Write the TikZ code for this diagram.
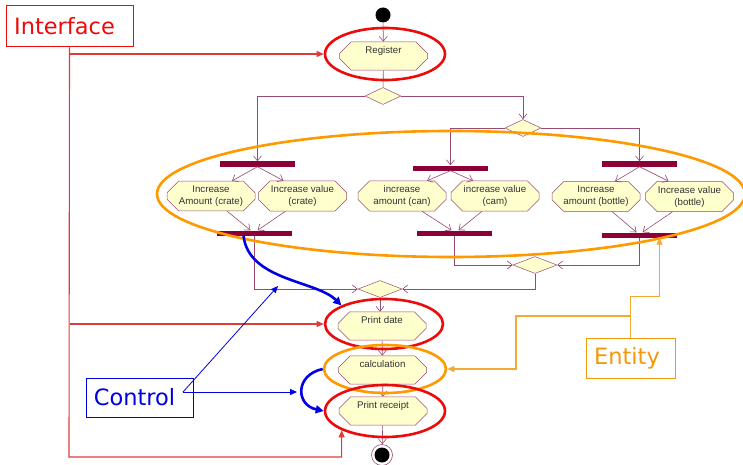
\documentclass[tikz,border=0pt]{standalone}
\usepackage{fontspec}
\setmainfont{Liberation Sans}
\newfontfamily\tagfont{DejaVu Sans}
\usetikzlibrary{shapes.geometric,shapes.misc,arrows.meta}

\definecolor{flowc}{RGB}{150,75,115}
\definecolor{actfill}{RGB}{255,255,206}
\definecolor{barc}{RGB}{140,0,55}
\definecolor{txtc}{RGB}{50,50,50}
\definecolor{redc}{RGB}{236,10,10}
\definecolor{redline}{RGB}{222,60,60}
\definecolor{orangec}{RGB}{255,153,0}
\definecolor{entc}{RGB}{242,152,10}
\definecolor{orangeline}{RGB}{244,170,50}
\definecolor{bluec}{RGB}{0,0,225}

\begin{document}
\begin{tikzpicture}[x=1pt,y=-1pt,
  action/.style={chamfered rectangle, chamfered rectangle xsep=8pt,
    draw=flowc, fill=actfill, line width=0.5pt, minimum width=88pt,
    minimum height=26pt, inner sep=1pt, align=center, text=txtc,
    font=\fontsize{9.7}{12}\selectfont},
  choice/.style={diamond, draw=flowc, fill=actfill, line width=0.5pt,
    inner sep=0pt, minimum height=17pt},
  syncbar/.style={rectangle, fill=barc, draw=none, minimum width=75pt,
    minimum height=5pt, inner sep=0pt},
  flow/.style={draw=flowc, line width=0.6pt},
  flowto/.style={flow, -{Straight Barb[length=5pt,width=8pt]}},
  hilite/.style={ellipse, draw=#1, line width=2.6pt, inner sep=0pt},
  tagbox/.style={draw=#1, text=#1, line width=1pt, inner sep=0pt,
    font=\tagfont\fontsize{22.5}{26}\selectfont},
  ifline/.style={draw=redline, line width=1.1pt},
  ctline/.style={draw=bluec, line width=0.8pt},
  enline/.style={draw=orangeline, line width=1.1pt},
  tip/.style={-{Triangle[length=7pt,width=6pt]}}
]
\useasboundingbox (0,0) rectangle (743,465);

% start and end states
\node[circle, fill=black, minimum size=15pt, inner sep=0pt] (start) at (383,15) {};
\node[circle, draw=flowc, fill=white, line width=0.6pt, minimum size=21pt, inner sep=0pt] (final) at (382,455) {};
\node[circle, fill=black, minimum size=15pt, inner sep=0pt] (finaldot) at (382,455) {};

% main column
\node[action] (reg) at (383.5,56) {Register\\\mbox{}};
\node[choice, minimum width=36pt] (d1) at (383,96) {};
\node[choice, minimum width=36pt] (d2) at (523,128) {};

% forks
\node[syncbar] (f1) at (257.5,164) {};
\node[syncbar] (f2) at (450.5,168) {};
\node[syncbar] (f3) at (639.5,164) {};

% increase actions
\node[action] (a1) at (211,196) {Increase\\Amount (crate)};
\node[action] (a2) at (302.5,196) {Increase value\\(crate)};
\node[action] (a3) at (402,196) {increase\\amount (can)};
\node[action] (a4) at (495,196) {increase value\\(cam)};
\node[action] (a5) at (596,196.5) {Increase\\amount (bottle)};
\node[action] (a6) at (689.5,196.5) {Increase value\\(bottle)};

% joins
\node[syncbar] (j1) at (254.5,233) {};
\node[syncbar] (j2) at (454.5,233) {};
\node[syncbar] (j3) at (639.5,235) {};

\node[choice, minimum width=44pt] (d3) at (380,289) {};
\node[choice, minimum width=44pt] (d4) at (535,265) {};

\node[action] (pd) at (382,326) {Print date\\\mbox{}};
\node[action] (calc) at (382.5,370) {calculation\\\mbox{}};
\node[action] (rcpt) at (383,411) {Print receipt\\\mbox{}};

% control flow
\draw[flowto] (start) -- (reg);
\draw[flow] (reg) -- (d1);
\draw[flowto] (d1.west) -| (f1.north);
\draw[flowto] (d1.east) -| (d2.north);
\draw[flowto] (d2.west) -| (f2.north);
\draw[flowto] (d2.east) -| (f3.north);

\draw[flowto] (f1.south) -- ([xshift=21pt]a1.north);
\draw[flowto] (f1.south) -- ([xshift=-19pt]a2.north);
\draw[flowto] (f2.south) -- ([xshift=25pt]a3.north);
\draw[flowto] (f2.south) -- ([xshift=-22pt]a4.north);
\draw[flowto] (f3.south) -- ([xshift=19pt]a5.north);
\draw[flowto] (f3.south) -- ([xshift=-21pt]a6.north);

\draw[flowto] ([xshift=16pt]a1.south) -- ([xshift=-4pt]j1.north);
\draw[flowto] ([xshift=-17pt]a2.south) -- ([xshift=3pt]j1.north);
\draw[flowto] ([xshift=20pt]a3.south) -- ([xshift=-3pt]j2.north);
\draw[flowto] ([xshift=-13pt]a4.south) -- ([xshift=4pt]j2.north);
\draw[flowto] ([xshift=16pt]a5.south) -- ([xshift=-3pt]j3.north);
\draw[flowto] ([xshift=-17pt]a6.south) -- ([xshift=3pt]j3.north);

\draw[flowto] (j1.south) |- (d3.west);
\draw[flowto] (j2.south) |- (d4.west);
\draw[flowto] (j3.south) |- (d4.east);
\draw[flowto] (d4.south) |- (d3.east);
\draw[flowto] (d3.south) -- (pd.north -| d3.south);
\draw[flowto] (pd) -- (calc);
\draw[flowto] (calc) -- (rcpt);
\draw[flowto] (rcpt) -- (final);

% highlight rings
\node[hilite=redc, minimum width=120pt, minimum height=52pt] (eReg) at (385,54) {};
\node[hilite=redc, minimum width=118pt, minimum height=50pt] (ePd) at (384,324) {};
\node[hilite=orangec, minimum width=122pt, minimum height=48pt] (eCalc) at (385,369) {};
\node[hilite=redc, minimum width=120pt, minimum height=52pt] (eRcpt) at (385,411) {};
\node[hilite=orangec, minimum width=588pt, minimum height=126pt] (eInc) at (451,194) {};

% category tags
\node[tagbox=redc, minimum width=127pt, minimum height=41pt] (iface) at (69.5,26.5) {Interface\hspace*{10pt}};
\node[tagbox=bluec, minimum width=107pt, minimum height=39pt] (ctl) at (139.5,397.5) {Control\hspace*{10pt}};
\node[tagbox=entc, minimum width=89pt, minimum height=40pt] (ent) at (630.5,358) {Entity\hspace*{7pt}};

% interface links
\coordinate (ifCorner) at (69,457);
\draw[ifline, tip] (iface.south) -- (ifCorner) -| (eRcpt.south west);
\draw[ifline, tip] (iface.south |- eReg.west) -- (eReg.west);
\draw[ifline, tip] (iface.south |- ePd.west) -- (ePd.west);

% control links
\coordinate (ctlFoot) at (183,392);
\coordinate (ctlTipA) at (278,286);
\coordinate (ctlTipB) at (297,392);
\draw[ctline, tip] (ctlFoot) -- (ctlTipA);
\draw[ctline, tip] (ctlFoot) -- (ctlTipB);
\draw[bluec, line width=2.6pt, -{Triangle[length=8pt,width=8pt]}]
  ([xshift=-11pt]j1.south) .. controls +(5,45) and +(-25,-25) .. (ePd.north west);
\draw[bluec, line width=2.6pt, -{Triangle[length=8pt,width=8pt]}]
  (eCalc.west) .. controls +(-28,6) and +(-28,-6) .. (eRcpt.west);

% entity links
\coordinate (enBend) at (516,316);
\draw[enline, tip] (ent.north) -- ++(0,-41) -| ([xshift=20pt]j3.south);
\draw[enline, tip] (ent.north |- enBend) -- (enBend) |- (eCalc.east);
\end{tikzpicture}
\end{document}
